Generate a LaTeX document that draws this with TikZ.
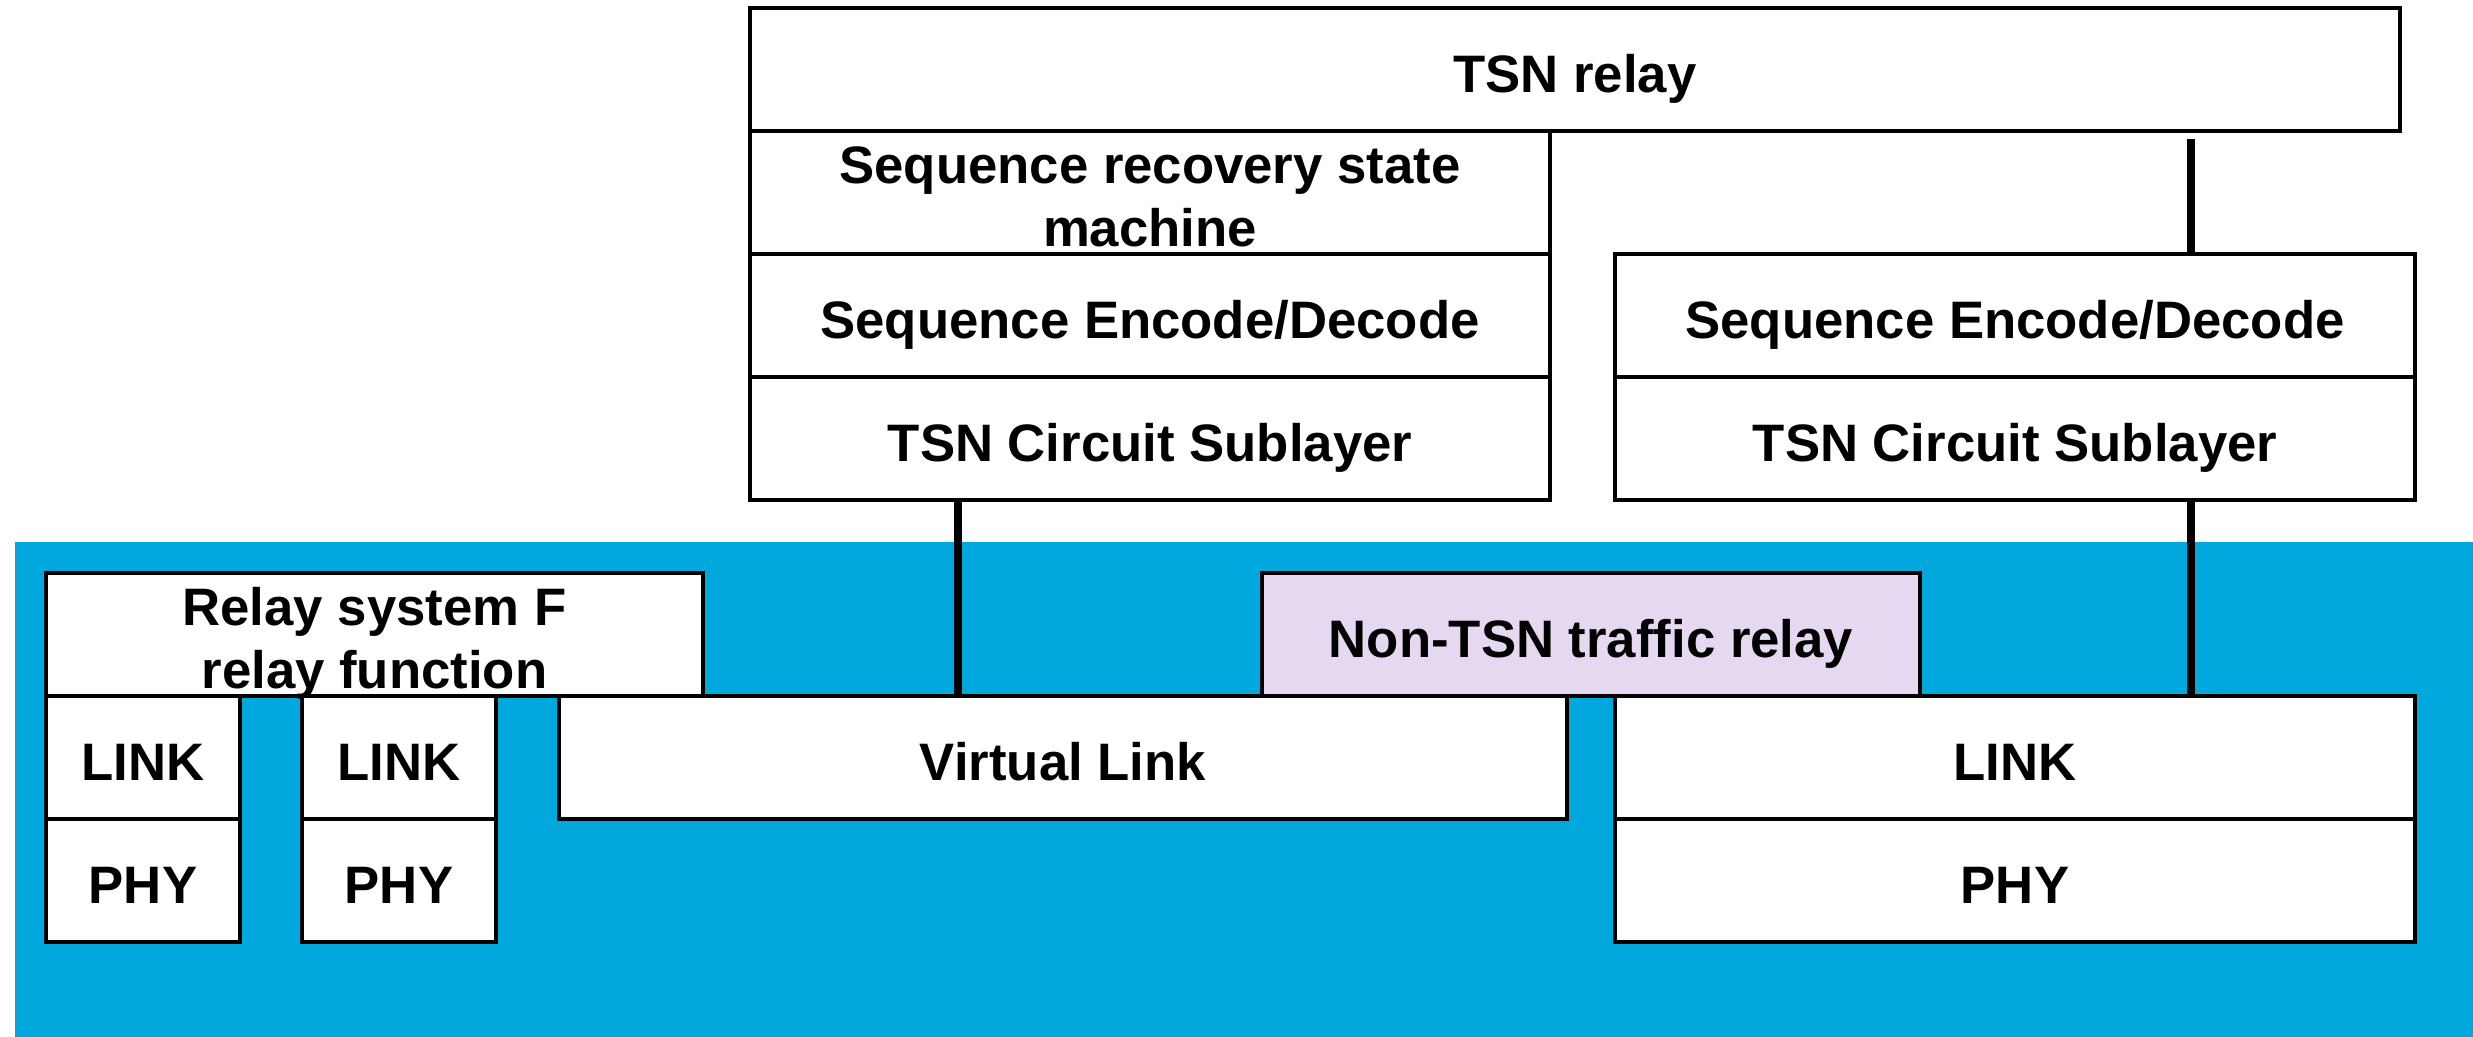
\documentclass[tikz,border=0pt]{standalone}
\usepackage{fontspec}
\setmainfont{Liberation Sans}
\definecolor{bluebg}{RGB}{0,168,222}
\definecolor{lavender}{RGB}{230,216,240}
\tikzset{
  box/.style={draw=black, line width=1.4pt, fill=white, inner sep=0pt,
    minimum height=1.23cm, text height=12.94pt, text depth=0pt,
    font=\fontsize{15pt}{17.8pt}\selectfont\bfseries, align=center},
  twoline/.style={text height=30.74pt, text depth=0pt},
  conn/.style={draw=black, line width=2.1pt},
}
\begin{document}
\begin{tikzpicture}
\useasboundingbox (0,0) rectangle (24.73,10.37);
\fill[bluebg] (0.15,0) rectangle (24.73,4.95);

\node[box, minimum width=16.5cm] (tsnrelay) at (15.75,9.675) {TSN relay};
\node[box, twoline, minimum width=8cm] (seqrec) at (11.5,8.445) {Sequence recovery state\\machine};
\node[box, minimum width=8cm] (seqencL) at (11.5,7.215) {Sequence Encode/Decode};
\node[box, minimum width=8cm] (tsncsL) at (11.5,5.985) {TSN Circuit Sublayer};
\node[box, minimum width=8cm] (seqencR) at (20.15,7.215) {Sequence Encode/Decode};
\node[box, minimum width=8cm] (tsncsR) at (20.15,5.985) {TSN Circuit Sublayer};

\node[box, twoline, minimum width=6.57cm] (relayF) at (3.745,4.025) {Relay system F\\relay function};
\node[box, minimum width=1.94cm] (link1) at (1.43,2.795) {LINK};
\node[box, minimum width=1.94cm] (phy1) at (1.43,1.565) {PHY};
\node[box, minimum width=1.94cm] (link2) at (3.99,2.795) {LINK};
\node[box, minimum width=1.94cm] (phy2) at (3.99,1.565) {PHY};
\node[box, minimum width=10.08cm] (vlink) at (10.63,2.795) {Virtual Link};
\node[box, fill=lavender, minimum width=6.58cm] (nontsn) at (15.91,4.025) {Non-TSN traffic relay};
\node[box, minimum width=8cm] (linkR) at (20.15,2.795) {LINK};
\node[box, minimum width=8cm] (phyR) at (20.15,1.565) {PHY};

\draw[conn] ([xshift=-1.92cm]tsncsL.south) -- ([xshift=-1.92cm]tsncsL.south |- vlink.north);
\draw[conn, shorten <=0.06cm] ([xshift=1.76cm]seqencR.north |- tsnrelay.south) -- ([xshift=1.76cm]seqencR.north);
\draw[conn] ([xshift=1.76cm]tsncsR.south) -- ([xshift=1.76cm]tsncsR.south |- linkR.north);
\end{tikzpicture}
\end{document}
